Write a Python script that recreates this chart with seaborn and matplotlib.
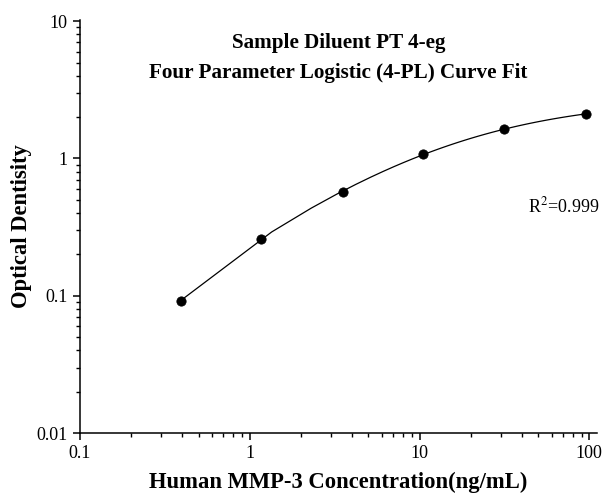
import numpy as np
import pandas as pd
import matplotlib
matplotlib.use('Agg')
import matplotlib.pyplot as plt
from matplotlib.ticker import LogLocator, FuncFormatter, NullFormatter
import seaborn as sns

# standards (3-fold dilution series)
conc = [0.391, 1.17, 3.52, 10.55, 31.6, 95.0]
od = [0.092, 0.261, 0.574, 1.07, 1.64, 2.11]
title_lines = ['Sample Diluent PT 4-eg', 'Four Parameter Logistic (4-PL) Curve Fit']
r2_text = 'R$^2$=0.999'

x = np.array(conc); y = np.array(od)

# 4-PL fit: y = A + (D-A) * u/(1+u), u = (x/C)^B ; A, D linear for fixed B, C
def fit_4pl(x, y):
    w = 1.0 / y
    best = (np.inf, None)
    for b in np.linspace(0.3, 2.5, 111):
        for c in np.logspace(0, 3, 151):
            u = (x / c) ** b
            M = np.column_stack([1 / (1 + u), u / (1 + u)]) * w[:, None]
            coef, *_ = np.linalg.lstsq(M, y * w, rcond=None)
            r = ((M @ coef - y * w) ** 2).sum()
            if r < best[0]:
                best = (r, (coef[0], b, c, coef[1]))
    return best[1]

A, B, C, D = fit_4pl(x, y)
# fitted curve evaluated on a linear grid (as the original software did)
xf = np.linspace(x.min(), x.max(), 100)
uf = (xf / C) ** B
curve = pd.DataFrame({'conc': xf, 'od': A + (D - A) * uf / (1 + uf)})
pts = pd.DataFrame({'conc': conc, 'od': od})

sns.set_style('ticks')
plt.rcParams['font.family'] = ['Liberation Serif', 'DejaVu Serif']
plt.rcParams['mathtext.fontset'] = 'stix'
plt.rcParams.update({'text.color': 'black', 'axes.labelcolor': 'black',
                     'xtick.color': 'black', 'ytick.color': 'black',
                     'xtick.labelsize': 13, 'ytick.labelsize': 13})

fig = plt.figure(figsize=(6.03, 4.95), dpi=100)
ax = fig.add_axes([80/603, 1 - 433/495, 517/603, 413/495])

sns.lineplot(data=curve, x='conc', y='od', ax=ax, color='black', lw=0.9, sort=False)
sns.scatterplot(data=pts, x='conc', y='od', ax=ax, color='black', s=45,
                edgecolor='black', zorder=3)

ax.set_xscale('log'); ax.set_yscale('log')
ax.set_xlim(0.1, 111); ax.set_ylim(0.01, 10.2)
fmt = FuncFormatter(lambda v, p: f'{v:g}')
for a in (ax.xaxis, ax.yaxis):
    a.set_major_locator(LogLocator(base=10))
    a.set_minor_locator(LogLocator(base=10, subs=np.arange(2, 10)))
    a.set_major_formatter(fmt)
    a.set_minor_formatter(NullFormatter())

ax.tick_params(which='major', length=5, width=1.1, labelsize=13, colors='black')
ax.tick_params(which='minor', length=3, width=1.0, colors='black')
ax.tick_params(axis='y', pad=3.8)
ax.tick_params(axis='x', pad=4)
for sp in ['top', 'right']: ax.spines[sp].set_visible(False)
for sp in ['bottom', 'left']:
    ax.spines[sp].set_color('black'); ax.spines[sp].set_linewidth(1.1)

ax.set_xlabel('Human MMP-3 Concentration(ng/mL)', fontsize=16.3, fontweight='bold')
ax.set_ylabel('Optical Dentisity', fontsize=16.3, fontweight='bold')
ax.xaxis.set_label_coords(0.5, -0.093)
ax.yaxis.set_label_coords(-0.093, 0.5)

ax.text(0.5, 0.944, title_lines[0], transform=ax.transAxes, ha='center', va='center',
        fontsize=15.2, fontweight='bold')
ax.text(0.5, 0.872, title_lines[1], transform=ax.transAxes, ha='center', va='center',
        fontsize=15.2, fontweight='bold')
ax.text(0.867, 0.533, r2_text, transform=ax.transAxes, ha='left', va='baseline',
        fontsize=13)

fig.savefig('out.png', dpi=100, facecolor='white')
